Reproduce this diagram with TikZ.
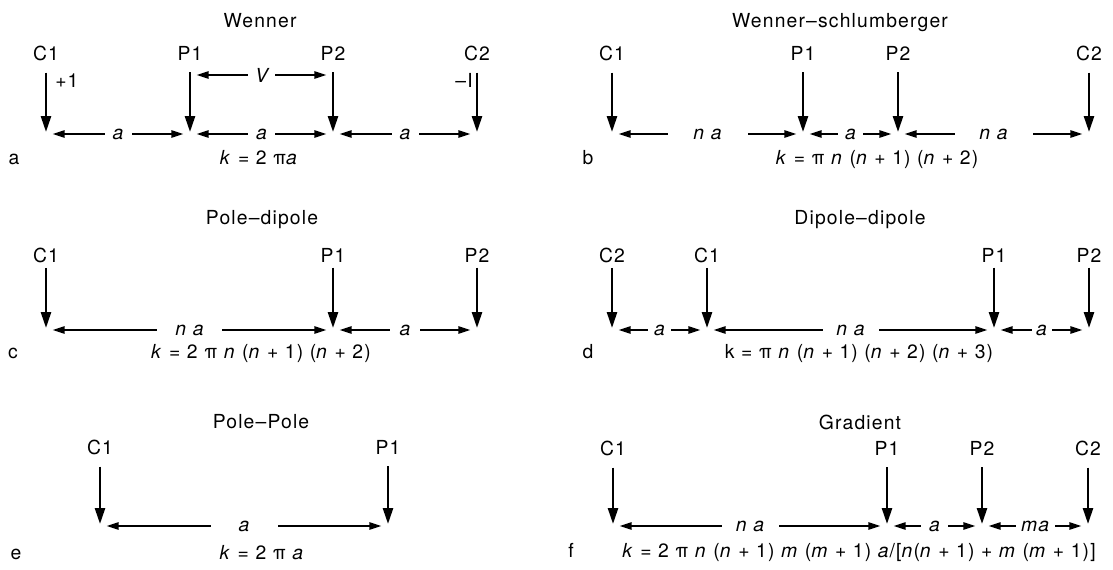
\documentclass[tikz,border=0pt]{standalone}
\usepackage{fontspec}
\setmainfont[LetterSpace=6]{TeX Gyre Heros}
\usetikzlibrary{arrows.meta}

\begin{document}
\begin{tikzpicture}[
  x=0.75pt, y=-0.75pt,
  every node/.style={font=\fontsize{14.5}{17}\selectfont, inner sep=0pt},
  heading/.style={anchor=base},
  electrode/.style={anchor=base},
  tag/.style={anchor=base},
  formula/.style={anchor=base},
  arrow/.style={-{Triangle[length=12pt,width=7.5pt]}, line width=1.9pt, shorten <=9pt, shorten >=1.5pt},
  darrow/.style={{Triangle[length=9pt,width=5.5pt]}-{Triangle[length=9pt,width=5.5pt]}, line width=1.2pt, shorten <=5pt, shorten >=5pt},
  gap/.style={fill=white, minimum width=#1*0.75pt, inner ysep=1pt, font=\fontsize{14.5}{17}\selectfont\itshape},
]
  \useasboundingbox (0,0) rectangle (1113,569);

  % Panel a: Wenner
  \node[heading] (aT) at (260,27) {Wenner};
  \node[electrode] (aC1) at (46,60) {C1};
  \node[electrode] (aP1) at (190,60) {P1};
  \node[electrode] (aP2) at (333,60) {P2};
  \node[electrode] (aC2) at (477,60) {C2};
  \coordinate (aC1t) at (46,134);
  \coordinate (aP1t) at (190,134);
  \coordinate (aP2t) at (333,134);
  \coordinate (aC2t) at (477,134);
  \draw[arrow] (aC1) -- (aC1t);
  \draw[arrow] (aP1) -- (aP1t);
  \draw[arrow] (aP2) -- (aP2t);
  \draw[arrow] (aC2) -- (aC2t);
  \draw[darrow] (aC1t) -- node[gap=27]{a} (aP1t);
  \draw[darrow] (aP1t) -- node[gap=27]{a} (aP2t);
  \draw[darrow] (aP2t) -- node[gap=27]{a} (aC2t);
  \node[tag, anchor=base west] (aplus) at (55,87) {+1};
  \node[tag, anchor=base east] (aminus) at (473,87) {–I};
  \coordinate (aV1) at (190,75);
  \coordinate (aV2) at (333,75);
  \draw[darrow] (aV1) -- node[gap=27]{V} (aV2);
  \node[formula] (aK) at (259,164) {\textit{k} = 2 π\textit{a}};
  \node[tag] (aL) at (14,164) {a};

  % Panel b: Wenner-schlumberger
  \node[heading] (bT) at (840,27) {Wenner–schlumberger};
  \node[electrode] (bC1) at (612,60) {C1};
  \node[electrode] (bP1) at (803,60) {P1};
  \node[electrode] (bP2) at (898,60) {P2};
  \node[electrode] (bC2) at (1089,60) {C2};
  \coordinate (bC1t) at (612,134);
  \coordinate (bP1t) at (803,134);
  \coordinate (bP2t) at (898,134);
  \coordinate (bC2t) at (1089,134);
  \draw[arrow] (bC1) -- (bC1t);
  \draw[arrow] (bP1) -- (bP1t);
  \draw[arrow] (bP2) -- (bP2t);
  \draw[arrow] (bC2) -- (bC2t);
  \draw[darrow] (bC1t) -- node[gap=80]{n a} (bP1t);
  \draw[darrow] (bP1t) -- node[gap=25]{a} (bP2t);
  \draw[darrow] (bP2t) -- node[gap=78]{n a} (bC2t);
  \node[formula] (bK) at (877,164) {\textit{k} = π \textit{n} (\textit{n} + 1) (\textit{n} + 2)};
  \node[tag] (bL) at (588,164) {b};

  % Panel c: Pole-dipole
  \node[heading] (cT) at (262,224) {Pole–dipole};
  \node[electrode] (cC1) at (46,262) {C1};
  \node[electrode] (cP1) at (333,262) {P1};
  \node[electrode] (cP2) at (477,262) {P2};
  \coordinate (cC1t) at (46,330);
  \coordinate (cP1t) at (333,330);
  \coordinate (cP2t) at (477,330);
  \draw[arrow, shorten <=4pt] (cC1) -- (cC1t);
  \draw[arrow, shorten <=4pt] (cP1) -- (cP1t);
  \draw[arrow, shorten <=4pt] (cP2) -- (cP2t);
  \draw[darrow] (cC1t) -- node[gap=65]{n a} (cP1t);
  \draw[darrow] (cP1t) -- node[gap=30]{a} (cP2t);
  \node[formula] (cK) at (261,358) {\textit{k} = 2 π \textit{n} (\textit{n} + 1) (\textit{n} + 2)};
  \node[tag] (cL) at (13,358) {c};

  % Panel d: Dipole-dipole
  \node[heading] (dT) at (860,224) {Dipole–dipole};
  \node[electrode] (dC2) at (612,262) {C2};
  \node[electrode] (dC1) at (707,262) {C1};
  \node[electrode] (dP1) at (994,262) {P1};
  \node[electrode] (dP2) at (1089,262) {P2};
  \coordinate (dC2t) at (612,330);
  \coordinate (dC1t) at (707,330);
  \coordinate (dP1t) at (994,330);
  \coordinate (dP2t) at (1089,330);
  \draw[arrow, shorten <=4pt] (dC2) -- (dC2t);
  \draw[arrow, shorten <=4pt] (dC1) -- (dC1t);
  \draw[arrow, shorten <=4pt] (dP1) -- (dP1t);
  \draw[arrow, shorten <=4pt] (dP2) -- (dP2t);
  \draw[darrow] (dC2t) -- node[gap=23]{a} (dC1t);
  \draw[darrow] (dC1t) -- node[gap=56]{n a} (dP1t);
  \draw[darrow] (dP1t) -- node[gap=20]{a} (dP2t);
  \node[formula] (dK) at (859,358) {k = π \textit{n} (\textit{n} + 1) (\textit{n} + 2) (\textit{n} + 3)};
  \node[tag] (dL) at (588,358) {d};

  % Panel e: Pole-Pole
  \node[heading] (eT) at (261,428) {Pole–Pole};
  \node[electrode] (eC1) at (100,454) {C1};
  \node[electrode] (eP1) at (388,454) {P1};
  \coordinate (eC1t) at (100,526);
  \coordinate (eP1t) at (388,526);
  \draw[arrow] (eC1) -- (eC1t);
  \draw[arrow] (eP1) -- (eP1t);
  \draw[darrow] (eC1t) -- node[gap=67]{a} (eP1t);
  \node[formula] (eK) at (262,559) {\textit{k} = 2 π \textit{a}};
  \node[tag] (eL) at (16,559) {e};

  % Panel f: Gradient
  \node[heading] (fT) at (860,429) {Gradient};
  \node[electrode] (fC1) at (613,455) {C1};
  \node[electrode] (fP1) at (887,455) {P1};
  \node[electrode] (fP2) at (982,455) {P2};
  \node[electrode] (fC2) at (1088,455) {C2};
  \coordinate (fC1t) at (613,526);
  \coordinate (fP1t) at (887,526);
  \coordinate (fP2t) at (982,526);
  \coordinate (fC2t) at (1088,526);
  \draw[arrow] (fC1) -- (fC1t);
  \draw[arrow] (fP1) -- (fP1t);
  \draw[arrow] (fP2) -- (fP2t);
  \draw[arrow] (fC2) -- (fC2t);
  \draw[darrow] (fC1t) -- node[gap=57]{n a} (fP1t);
  \draw[darrow] (fP1t) -- node[gap=27]{a} (fP2t);
  \draw[darrow] (fP2t) -- node[gap=39]{ma} (fC2t);
  \node[formula] (fK) at (859,557) {\textit{k} = 2 π \textit{n} (\textit{n} + 1) \textit{m} (\textit{m} + 1) \textit{a}/[\textit{n}(\textit{n} + 1) + \textit{m} (\textit{m} + 1)]};
  \node[tag] (fL) at (571,557) {f};
\end{tikzpicture}
\end{document}
